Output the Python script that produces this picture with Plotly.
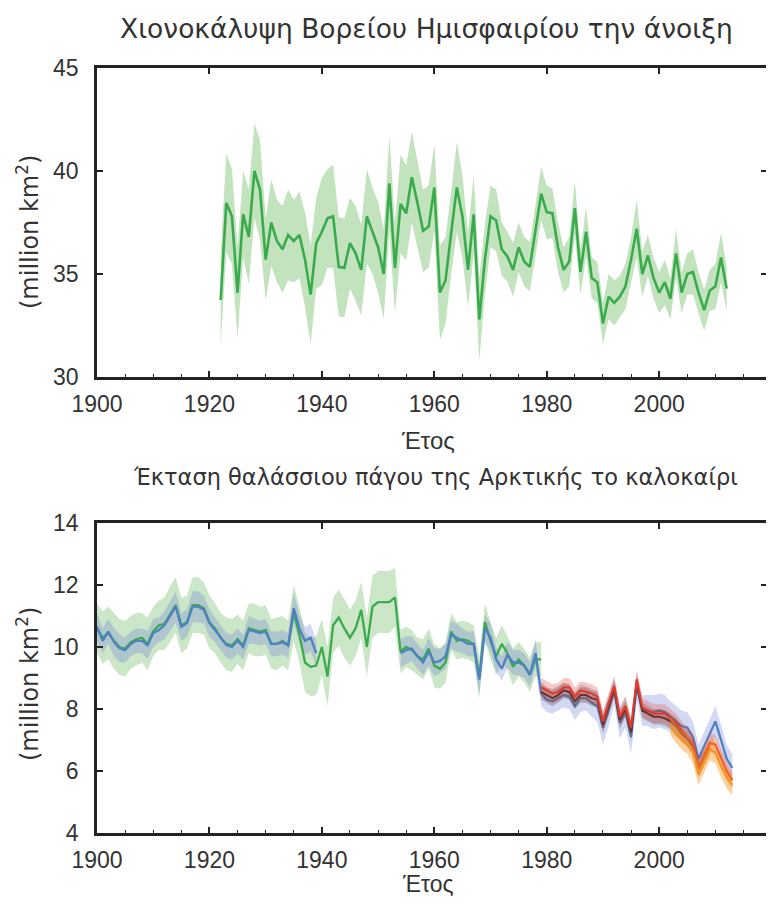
import plotly.graph_objects as go

# ---------------- data ----------------
# Top panel: NH spring snow cover (million km2), 1922-2012
snow_years = list(range(1922, 2013))
snow_vals = [33.74, 38.45, 37.8, 34.1, 37.9, 36.8, 40.0, 39.1, 35.7, 37.5,
             36.6, 36.2, 36.9, 36.6, 36.9, 35.7, 34.0, 36.5, 37.05, 37.7,
             37.8, 35.35, 35.3, 36.5, 36.0, 35.2, 37.8, 37.1, 36.3, 35.0,
             39.4, 35.3, 38.4, 37.95, 39.7, 38.45, 37.1, 37.3, 39.2, 34.1,
             34.7, 37.0, 39.2, 37.8, 35.2, 37.9, 32.8, 35.7, 37.8, 37.6,
             36.2, 35.85, 35.2, 36.3, 35.6, 35.35, 37.1, 38.9, 38.0, 37.95,
             36.3, 35.2, 35.6, 38.2, 35.1, 37.05, 34.8, 34.6, 32.6, 33.9,
             33.6, 33.9, 34.4, 35.7, 37.2, 35.0, 35.9, 34.8, 34.1, 34.6,
             33.8, 36.0, 34.1, 35.0, 35.1, 34.1, 33.25, 34.2, 34.4, 35.8, 34.3]
snow_unc = [2.2, 2.4, 2.3, 2.2, 2.1, 2.3, 2.3, 2.4, 2.0, 2.1,
            2.0, 2.1, 2.2, 2.0, 2.1, 2.3, 2.4, 2.2, 2.6, 2.4,
            2.5, 2.4, 2.4, 2.2, 2.3, 2.2, 2.3, 2.1, 2.2, 2.2,
            2.3, 2.2, 2.4, 2.3, 2.2, 2.1, 2.0, 2.0, 2.1, 2.3,
            2.1, 2.0, 2.2, 2.0, 1.8, 1.9, 2.0, 1.7, 1.5, 1.5,
            1.3, 1.2, 1.3, 1.2, 1.2, 1.2, 1.2, 1.3, 1.3, 1.2,
            1.2, 1.1, 1.2, 1.3, 1.1, 1.2, 1.0, 1.0, 1.0, 1.1,
            1.1, 1.0, 1.1, 1.1, 1.4, 1.1, 1.0, 1.0, 1.0, 1.1,
            1.0, 1.2, 1.0, 1.0, 1.1, 1.0, 1.0, 1.0, 1.1, 1.2, 1.1]

# Bottom panel: Arctic summer sea-ice extent (million km2)
green_years = list(range(1900, 1980))
green_vals = [10.6, 10.3, 10.45, 10.2, 10.0, 9.95, 10.15, 10.25, 10.3, 10.1,
              10.5, 10.7, 10.75, 11.05, 11.35, 10.7, 10.8, 11.35, 11.35, 11.25,
              10.8, 10.6, 10.3, 10.1, 10.05, 10.25, 10.05, 10.6, 10.55, 10.5,
              10.55, 10.1, 10.1, 10.2, 10.05, 11.1, 10.4, 9.5, 9.36, 9.4,
              10.0, 9.05, 10.7, 10.95, 10.6, 10.3, 10.6, 11.2, 10.0, 11.3,
              11.45, 11.45, 11.45, 11.6, 9.85, 10.0, 9.9, 9.7, 9.6, 9.95,
              9.4, 9.3, 9.5, 10.5, 10.2, 10.25, 10.2, 10.1, 9.0, 10.8,
              10.2, 9.7, 10.1, 9.8, 9.36, 9.6, 9.4, 9.1, 9.6, 9.6]
green_unc = [0.8, 0.85, 0.85, 0.9, 0.9, 0.9, 0.85, 0.85, 0.8, 0.85,
             0.8, 0.8, 0.85, 0.9, 0.9, 0.9, 0.85, 0.9, 0.9, 0.85,
             0.85, 0.8, 0.8, 0.85, 0.85, 0.8, 0.8, 0.8, 0.85, 0.8,
             0.8, 0.8, 0.85, 0.8, 0.8, 0.9, 0.9, 0.95, 0.95, 0.95,
             0.9, 0.95, 0.9, 0.9, 0.95, 0.9, 0.9, 0.9, 0.95, 1.0,
             1.0, 1.0, 1.0, 0.95, 0.7, 0.65, 0.65, 0.6, 0.65, 0.65,
             0.7, 0.65, 0.65, 0.6, 0.6, 0.6, 0.6, 0.6, 0.65, 0.6,
             0.6, 0.6, 0.6, 0.55, 0.6, 0.55, 0.55, 0.55, 0.55, 0.55]

blue_years = list(range(1900, 2014))
blue_vals = [10.65, 10.2, 10.5, 10.17, 9.96, 9.9, 10.1, 10.2, 10.2, 10.06,
             10.45, 10.55, 10.7, 11.0, 11.3, 10.65, 10.77, 11.3, 11.3, 11.2,
             10.77, 10.55, 10.3, 10.06, 10.0, 10.2, 10.0, 10.55, 10.5, 10.45,
             10.5, 10.1, 10.1, 10.15, 10.05, 11.25, 10.6, 10.2, 10.3, 9.8,
             None, None, None, None, None, None, None, None, None, None,
             None, None, None, None, 9.8, 9.9, 9.95, 9.7, 9.5, 9.85,
             9.5, 9.55, 9.7, 10.4, 10.3, 10.2, 10.1, 10.1, 8.95, 10.6,
             10.3, 9.6, 9.3, 9.75, 9.5, 9.5, 9.4, 9.1, 9.8, 8.5,
             8.3, 8.25, 8.35, 8.45, 8.4, 8.1, 8.35, 8.35, 8.2, 8.1,
             7.4, 7.95, 8.6, 7.55, 7.9, 7.1, 8.75, 7.95, 7.95, 7.9,
             7.95, 7.9, 7.75, 7.6, 7.45, 7.4, 7.1, 6.4, 6.8, 7.2,
             7.6, 7.0, 6.4, 6.1]
blue_unc = [0.45, 0.4, 0.4, 0.45, 0.45, 0.4, 0.4, 0.4, 0.4, 0.45,
            0.45, 0.4, 0.45, 0.5, 0.5, 0.45, 0.45, 0.5, 0.5, 0.45,
            0.45, 0.4, 0.4, 0.4, 0.4, 0.4, 0.4, 0.45, 0.4, 0.4,
            0.4, 0.4, 0.4, 0.4, 0.4, 0.5, 0.45, 0.45, 0.45, 0.4,
            None, None, None, None, None, None, None, None, None, None,
            None, None, None, None, 0.45, 0.45, 0.4, 0.4, 0.4, 0.45,
            0.45, 0.4, 0.4, 0.45, 0.45, 0.4, 0.4, 0.4, 0.45, 0.45,
            0.45, 0.4, 0.4, 0.4, 0.4, 0.4, 0.4, 0.4, 0.45, 0.4,
            0.4, 0.4, 0.4, 0.4, 0.4, 0.45, 0.45, 0.4, 0.45, 0.5,
            0.55, 0.5, 0.45, 0.5, 0.5, 0.55, 0.45, 0.5, 0.5, 0.55,
            0.55, 0.55, 0.5, 0.5, 0.5, 0.5, 0.5, 0.45, 0.45, 0.5,
            0.5, 0.5, 0.45, 0.45]

black_years = list(range(1979, 2010))
black_vals = [8.55, 8.45, 8.35, 8.45, 8.6, 8.55, 8.25, 8.45, 8.45, 8.35, 8.3,
              7.5, 8.05, 8.65, 7.65, 8.0, 7.25, 8.85, 7.95, 7.85, 7.75,
              7.75, 7.7, 7.6, 7.45, 7.2, 7.05, 6.8, 6.1, 6.4, 6.75]
black_unc = [0.25, 0.25, 0.25, 0.25, 0.25, 0.25, 0.25, 0.25, 0.25, 0.25, 0.25,
             0.3, 0.25, 0.25, 0.3, 0.25, 0.3, 0.25, 0.25, 0.25, 0.25,
             0.25, 0.25, 0.25, 0.25, 0.25, 0.25, 0.25, 0.3, 0.25, 0.25]

red_years = list(range(1979, 2014))
red_vals = [8.7, 8.6, 8.5, 8.55, 8.7, 8.7, 8.4, 8.6, 8.55, 8.5, 8.4,
            7.6, 8.2, 8.75, 7.75, 8.1, 7.4, 8.95, 8.05, 7.95, 7.85,
            7.85, 7.85, 7.7, 7.55, 7.3, 7.1, 6.9, 6.1, 6.5, 6.9,
            6.85, 6.4, 6.0, 5.7]
red_unc = [0.3, 0.3, 0.3, 0.3, 0.3, 0.3, 0.3, 0.3, 0.3, 0.3, 0.3,
           0.3, 0.3, 0.3, 0.3, 0.3, 0.3, 0.3, 0.3, 0.3, 0.3,
           0.3, 0.3, 0.3, 0.3, 0.3, 0.3, 0.3, 0.3, 0.3, 0.3,
           0.3, 0.3, 0.3, 0.3]

orange_years = list(range(2002, 2014))
orange_vals = [7.45, 7.2, 7.0, 6.85, 6.6, 5.9, 6.3, 6.7, 6.6, 6.15, 5.8, 5.55]
orange_unc = [0.3, 0.3, 0.3, 0.3, 0.35, 0.35, 0.35, 0.35, 0.35, 0.35, 0.35, 0.35]

x_ticks = [1900, 1920, 1940, 1960, 1980, 2000]
snow_yticks = [30, 35, 40, 45]
ice_yticks = [4, 6, 8, 10, 12, 14]

title_top = "Χιονοκάλυψη Βορείου Ημισφαιρίου την άνοιξη"
title_bottom = "Έκταση θαλάσσιου πάγου της Αρκτικής το καλοκαίρι"
xlabel = "Έτος"
ylabel = "(million km<sup>2</sup>)"

# ---------------- figure ----------------
# The page body has an 8px margin; the figure is sized to fit the window exactly.
OFF = 8
W, H = 774 - 2 * OFF, 907 - 2 * OFF
FONT = "Liberation Sans, Arial, sans-serif"
TFONT = "DejaVu Sans, Verdana, sans-serif"
TXT = "#333333"

fig = go.Figure()


def segments(years, vals, unc):
    segs, cur = [], []
    for y, v, u in zip(years, vals, unc):
        if v is None:
            if cur:
                segs.append(cur)
            cur = []
        else:
            cur.append((y, v, u))
    if cur:
        segs.append(cur)
    return segs


def add_band(years, vals, unc, band_color, xa, ya):
    segs = segments(years, vals, unc)
    for seg in segs:
        xs = [s[0] for s in seg]
        up = [s[1] + s[2] for s in seg]
        lo = [s[1] - s[2] for s in seg]
        fig.add_trace(go.Scatter(x=xs + xs[::-1], y=up + lo[::-1], fill="toself",
                                 fillcolor=band_color, line=dict(width=0),
                                 mode="lines", hoverinfo="skip", showlegend=False,
                                 xaxis=xa, yaxis=ya))
    return segs


def add_line(segs, line_color, xa, ya, lw=2.5):
    for seg in segs:
        fig.add_trace(go.Scatter(x=[s[0] for s in seg], y=[s[1] for s in seg],
                                 mode="lines", line=dict(color=line_color, width=lw),
                                 showlegend=False, xaxis=xa, yaxis=ya))


GREEN = "#3aab4c"
BLUE = "#4f7fc4"
BLACK = "#2a2a2a"
RED = "#e53a2b"
ORANGE = "#f7941d"

# top panel
s = add_band(snow_years, snow_vals, snow_unc, "rgba(120,192,110,0.45)", "x", "y")
add_line(s, GREEN, "x", "y", 2.6)

# bottom panel
sg = add_band(green_years, green_vals, green_unc, "rgba(120,190,110,0.38)", "x2", "y2")
sb = add_band(blue_years, blue_vals, blue_unc, "rgba(110,130,215,0.30)", "x2", "y2")
add_line(sg, GREEN, "x2", "y2", 2.3)
add_line(sb, BLUE, "x2", "y2", 2.3)
sk = add_band(black_years, black_vals, black_unc, "rgba(70,70,70,0.30)", "x2", "y2")
add_line(sk, BLACK, "x2", "y2", 2.0)
sr = add_band(red_years, red_vals, red_unc, "rgba(235,80,60,0.30)", "x2", "y2")
add_line(sr, RED, "x2", "y2", 2.2)
so = add_band(orange_years, orange_vals, orange_unc, "rgba(250,150,40,0.45)", "x2", "y2")
add_line(so, ORANGE, "x2", "y2", 2.2)

# dummy traces to activate overlay axes (top / right tick marks)
for xa, ya in [("x3", "y"), ("x", "y3"), ("x4", "y2"), ("x2", "y4")]:
    fig.add_trace(go.Scatter(x=[None], y=[None], xaxis=xa, yaxis=ya,
                             showlegend=False, hoverinfo="skip"))


def px_x(p):
    return (p - OFF) / W


def px_y(p):
    return 1 - (p - OFF) / H


XR = [1900, 2019]
xdom = [px_x(97), 1.0]
ydom_top = [px_y(377), px_y(68)]
ydom_bot = [px_y(833), px_y(523)]
AX = "#222222"

xbase = dict(range=XR, domain=xdom, tickvals=x_ticks, ticks="inside", ticklen=6,
             tickwidth=1.5, tickcolor=AX, showline=True, linecolor=AX, linewidth=2.5,
             mirror=True, showgrid=False, zeroline=False, automargin=False,
             tickfont=dict(family=FONT, size=23, color=TXT),
             minor=dict(dtick=5, tick0=1900, ticks="inside", ticklen=3,
                        tickwidth=1.2, tickcolor=AX, showgrid=False),
             ticklabelstandoff=5)
ybase = dict(ticks="inside", ticklen=6, tickwidth=1.5, tickcolor=AX, showline=True,
             linecolor=AX, linewidth=2.5, showgrid=False, zeroline=False,
             automargin=False,
             tickfont=dict(family=FONT, size=23, color=TXT), ticklabelstandoff=11)
xover = dict(range=XR, domain=xdom, tickvals=x_ticks, ticks="inside", ticklen=6,
             tickwidth=1.5, tickcolor=AX, showline=False, showticklabels=False,
             showgrid=False, zeroline=False, side="top", automargin=False)
yover = dict(ticks="inside", ticklen=5, tickwidth=1.5, tickcolor=AX, showline=False,
             showticklabels=False, showgrid=False, zeroline=False, side="right",
             automargin=False)

fig.update_layout(
    width=W, height=H, margin=dict(l=0, r=0, t=0, b=0, autoexpand=False),
    paper_bgcolor="white", plot_bgcolor="white", showlegend=False,
    xaxis=dict(**xbase, anchor="y"),
    yaxis=dict(**ybase, range=[30, 45], domain=ydom_top, tickvals=snow_yticks, anchor="x"),
    xaxis2=dict(**xbase, anchor="y2"),
    yaxis2=dict(**ybase, range=[4, 14], domain=ydom_bot, tickvals=ice_yticks, anchor="x2"),
    xaxis3=dict(**xover, overlaying="x", anchor="y"),
    yaxis3=dict(**yover, range=[30, 45], domain=ydom_top, tickvals=snow_yticks,
                overlaying="y", anchor="x"),
    xaxis4=dict(**xover, overlaying="x2", anchor="y2"),
    yaxis4=dict(**yover, range=[4, 14], domain=ydom_bot, tickvals=ice_yticks,
                overlaying="y2", anchor="x2"),
)


def ann(text, px, py, size, family, angle=0):
    fig.add_annotation(text=text, x=px_x(px), y=px_y(py), xref="paper", yref="paper",
                       showarrow=False, xanchor="center", yanchor="middle",
                       textangle=angle, font=dict(family=family, size=size, color=TXT))


ann(title_top, 426, 28, 26.5, TFONT)
ann(title_bottom, 435, 477, 22.5, TFONT)
ann(xlabel, 428, 440, 24, FONT)
ann(xlabel, 428, 884, 23, FONT)
ann(ylabel, 28, 232, 24, TFONT, -90)
ann(ylabel, 28, 684, 24, TFONT, -90)

fig.write_html("out.html")
